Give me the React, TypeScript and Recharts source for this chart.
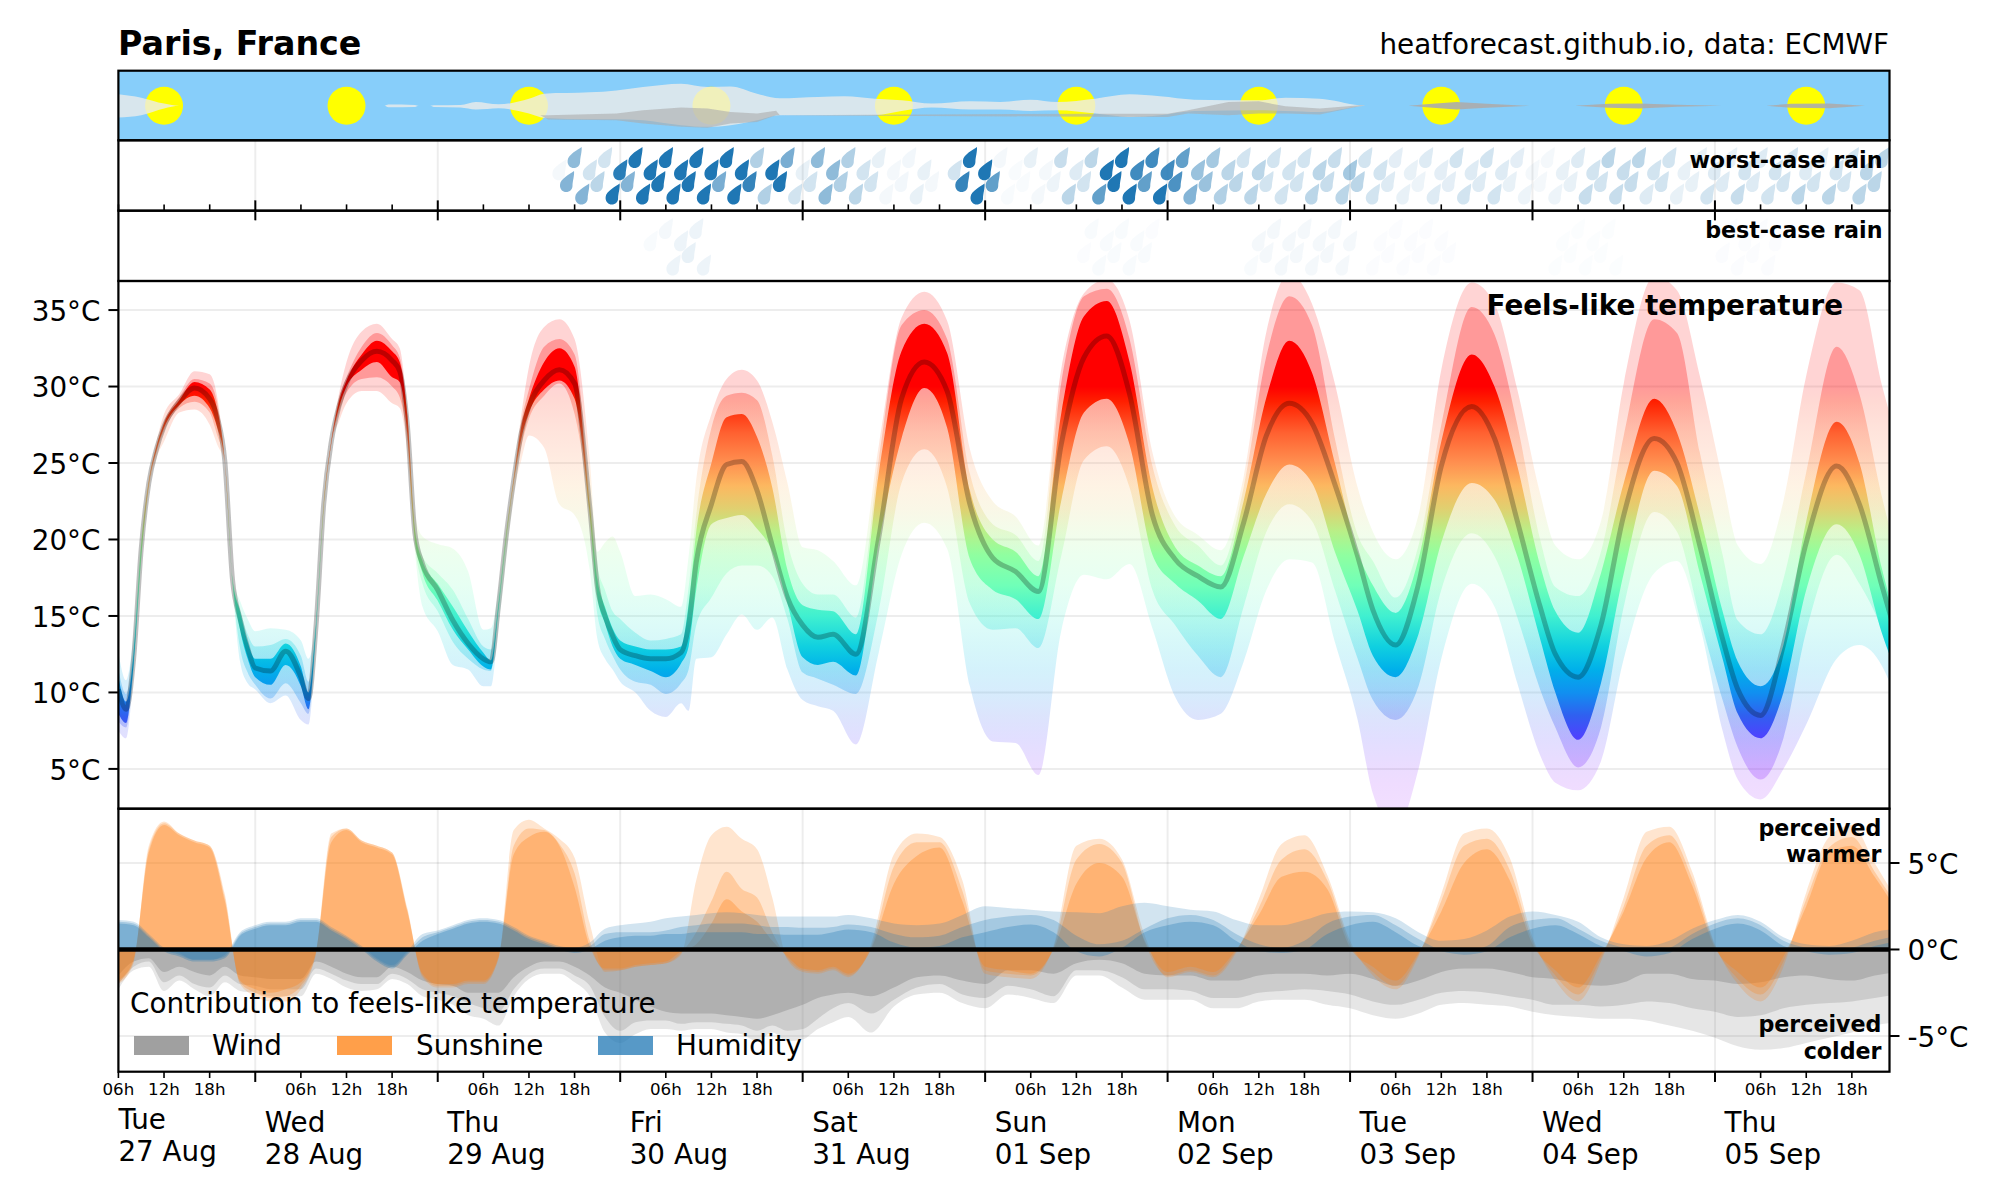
import React from 'react';
import { Area, CartesianGrid, ComposedChart, Line, ReferenceLine, Scatter, ScatterChart, XAxis, YAxis } from 'recharts';

// hours since Tue 27 Aug 06:00
const END_HOUR = 232.95;
const FONT = '"DejaVu Sans", sans-serif';

const heatHours = [
  0, 1, 2, 3, 4, 5, 6, 8, 10, 12, 13, 14, 15, 16, 17, 18, 20, 22, 24, 25, 26, 27, 28, 29, 30, 32, 34, 36, 37, 38, 39, 40,
  42, 44, 46, 48, 49, 50, 51, 52, 53, 54, 56, 58, 60, 62, 63, 64, 65, 66, 68, 70, 72, 74, 75, 76, 78, 80, 82, 84, 86, 88, 90, 92, 94,
  97, 100, 103, 106, 109, 112, 115, 118, 121, 124, 127, 130, 133, 136, 139, 142, 145, 148, 151, 154, 157, 160, 163,
  165, 168, 171, 174, 178, 181, 184, 187, 189, 192, 195, 198, 202, 205, 208, 211, 213, 216, 219, 222, 226, 229, 232, 235,
];
const outerHigh = [
  12.6, 10.8, 13.8, 20.3, 24.1, 26.4, 28.2, 29.5, 31, 30.8, 29.3, 25.1, 17.6, 16, 14.8, 14, 14.2, 14.1, 13.4, 12.2, 14.9, 22.5, 26.6, 29.5, 31.6, 33.6, 34.1, 33.1, 32.5, 28.4, 21.6, 20.2,
  19.7, 19.4, 17.9, 14.1, 14.2, 16.7, 20.7, 24.3, 28.2, 31.3, 33.9, 34.4, 33.1, 25.2, 19.2, 19.8, 20.2, 19.2, 16.3, 16.4, 16.1, 15.6, 18.9, 23.9, 28.2, 30.5, 31.1, 30.4, 27.7, 23.7, 19.5, 19.3, 18.6,
  17, 26.1, 34.5, 36.2, 34.3, 25.9, 22.5, 21.5, 19.6, 31.1, 36.1, 37, 34.3, 25.7, 21.5, 20.3, 19.3, 24.1, 33.6, 37.4, 35.4, 30.2, 23.4,
  20.5, 18.7, 21.6, 31.1, 36.8, 35.4, 29.8, 23, 19.6, 18.7, 21.2, 30.2, 37.2, 36.3, 30.7, 23.9, 19.6, 18.4, 22.5, 30.7, 36.8, 36.3, 30, 24.8,
];
const midHigh = [
  11.5, 9.9, 12.9, 19.8, 23.9, 26.1, 27.7, 29.3, 30.5, 30.2, 28.9, 25.1, 17.5, 15.4, 13.8, 13, 13.1, 13.5, 12.4, 10.7, 14.6, 22.4, 26.5, 29.2, 30.6, 32.6, 33.5, 32.7, 31.9, 28.2, 20.7, 18.9,
  17.8, 16.7, 14.8, 13, 12.8, 16, 20.5, 24.1, 27.7, 29.8, 32.6, 33.1, 32.1, 23, 18.3, 16.7, 15.3, 14.8, 13.9, 13.4, 13.5, 13.8, 16.9, 21.6, 27.3, 29.4, 29.6, 29.1, 25.5, 19.8, 17.1, 16.4, 16.4,
  14.9, 25.2, 34, 35, 33.1, 24.3, 21, 20.3, 18.6, 30.2, 35.9, 36.4, 33.1, 24.8, 20.9, 19.6, 18.3, 23.4, 32, 35.9, 34, 26.6, 20.3,
  18.6, 16.2, 19.6, 27.5, 35.2, 33.4, 27.5, 20, 16.9, 16.3, 19.2, 26.8, 34.4, 33.5, 25.7, 19, 14.7, 13.8, 17.4, 24.4, 32.6, 29.5, 22.7, 17.1,
];
const innerHigh = [
  11, 9.4, 12.5, 19.6, 23.8, 26.1, 27.6, 29.1, 30.3, 29.8, 28.5, 25.1, 17.4, 15.3, 13.3, 12.2, 12.2, 13.2, 11.7, 10, 14.5, 22.3, 26.4, 29, 30.4, 32.1, 33, 32.3, 31.6, 28.1, 20.6, 18.6,
  17.1, 15.6, 14, 12.6, 12.1, 15.8, 20.3, 24, 27.4, 29.2, 31.6, 32.5, 31.3, 22.3, 17.4, 15.6, 14.2, 13.4, 13, 12.8, 12.8, 13, 15.8, 20.5, 25, 28, 28.2, 26.7, 23.4, 18, 15.7, 15.4, 15.3,
  13.8, 24.3, 32.3, 34.1, 32.2, 23.2, 20, 19.2, 17.6, 28.2, 34.6, 35.6, 31.6, 23.4, 19.5, 18.3, 17.6, 22.5, 29.3, 33, 30.9, 25, 19.2,
  17, 15.2, 18.7, 26.4, 32.1, 30, 24.8, 18.3, 15.3, 13.9, 17.8, 23.7, 29.2, 27, 21.6, 15.3, 12, 10.4, 13.1, 21.2, 27.7, 25, 18, 12.9,
];
const median = [
  10.2, 8.9, 12.2, 19.4, 23.7, 25.9, 27.4, 29, 29.9, 29.2, 28, 25.1, 17.4, 14.8, 12.9, 11.6, 11.4, 12.7, 11, 9.6, 14.4, 22.3, 26.4, 28.7, 30.2, 31.7, 32.3, 31.7, 31, 27.5, 20.4, 18.4,
  16.7, 14.7, 13.2, 12.2, 12, 15.7, 20.2, 23.9, 27, 28.7, 30.4, 31.1, 30.2, 22.1, 16.9, 15, 13.7, 12.8, 12.4, 12.2, 12.2, 12.6, 14.4, 18.5, 22.3, 24.9, 25.1, 23.2, 19.6, 16.2, 14.4, 13.6, 13.8,
  12.5, 20.1, 29.2, 31.6, 29.7, 22.3, 18.8, 17.9, 16.6, 26.2, 31.9, 33.3, 29.5, 21.6, 18.7, 17.6, 16.9, 21.1, 26.8, 28.9, 27.6, 23.6, 18.9,
  15.4, 13.1, 17.1, 24.8, 28.7, 26.6, 21.2, 15.6, 12.5, 11, 14.4, 21.6, 26.6, 25, 19.6, 13.5, 10.2, 8.5, 13.1, 19.8, 24.8, 22.3, 16.9, 11.7,
];
const innerLow = [
  8.6, 8, 11.9, 18.9, 23.6, 25.8, 27.3, 28.8, 29.4, 28.6, 27.3, 25.1, 17.3, 14.1, 12.2, 11, 10.5, 11.8, 10.4, 8.9, 14.2, 22.1, 26.3, 28.6, 30, 31.1, 31.6, 30.6, 30.3, 26.9, 20, 17.8,
  16, 14.1, 12.8, 11.7, 11.5, 15.5, 20.1, 23.8, 26.6, 28.3, 29.8, 30.4, 29.2, 21.6, 16.2, 14.5, 13, 12.2, 11.8, 11.4, 11, 11.9, 13, 16.7, 21, 21.4, 21.6, 20.7, 19.2, 15.8, 12.3, 11.8, 12,
  11.1, 19.8, 26.6, 29.9, 27.3, 18.7, 16.7, 16.1, 14.8, 22.5, 28.3, 29.2, 26.2, 19, 17.1, 16, 14.8, 18.9, 23, 24.9, 23.7, 19.2, 15.3,
  12.4, 11, 13.8, 19.8, 23.7, 22.6, 18.9, 13.5, 10, 6.9, 10.6, 17.8, 24.5, 23.5, 17.8, 12.2, 8.6, 7, 10, 16.7, 21, 19, 13.8, 10,
];
const midLow = [
  8.1, 7.7, 11.7, 18.7, 23.4, 25.7, 27.1, 28.6, 29, 28.3, 26.8, 25, 17.1, 12.9, 11.3, 10.5, 9.6, 10.6, 9.3, 8.6, 14, 22, 26.2, 28.3, 29.6, 30.5, 30.6, 30, 29.3, 26.4, 19.6, 17.1,
  15.3, 13.3, 12.2, 11.5, 11.4, 15.3, 19.8, 23.7, 26.1, 27.9, 29.4, 30.2, 28.2, 21.2, 15.1, 13.5, 12.4, 11.5, 10.7, 10.5, 9.9, 10.6, 11.5, 14.4, 16.2, 17.8, 18.3, 18.3, 17.6, 14.8, 11.3, 10.9, 10.5,
  9.9, 15.3, 23.7, 25.9, 23.4, 15.8, 14.1, 14.2, 12.9, 18.9, 25.2, 26.1, 23.4, 16.7, 14.4, 12.4, 11, 15.6, 20.5, 22.3, 21.2, 16.7, 12.2,
  9.5, 8.2, 10.4, 16.7, 20.4, 18.9, 14.9, 10.2, 7.7, 5.1, 7.7, 15.6, 21.8, 20.5, 14.9, 9.5, 6.4, 4.3, 7, 14, 19, 17.1, 14, 8.8,
];
const outerLow = [
  7.5, 7, 11.3, 18.5, 23.2, 25.3, 26.4, 28.3, 28.5, 27.5, 26.2, 25, 17.1, 12, 10.6, 10.2, 9.3, 9.8, 8.2, 7.9, 13.5, 21.6, 26.2, 27.7, 28.9, 29.7, 29.7, 28.9, 28.6, 25.7, 19.2, 15.6,
  14, 11.8, 11.5, 10.4, 10.4, 14.4, 18.9, 23, 25.2, 26.8, 26, 22.3, 21.6, 18, 13.5, 12.2, 11.5, 10.7, 10, 8.8, 8.4, 9.3, 8.8, 12.2, 12.3, 13.8, 15.1, 14.1, 14.9, 11.5, 9.5, 9.1, 8.8,
  6.6, 12.6, 19, 21.1, 19.4, 10.4, 6.8, 6.7, 4.6, 14, 17.7, 17.4, 18.4, 14.2, 9.7, 8.2, 8.6, 12, 16.7, 18.7, 18.5, 13.3, 8.2,
  3.4, 1, 5, 12.2, 17.1, 15.6, 10.6, 5.9, 4.1, 3.6, 5.5, 12.2, 17.8, 18.6, 14.4, 7.5, 4.3, 3, 5, 7.9, 12.2, 13.1, 11.7, 7.7,
];

const contribHours = [
  0, 2, 4, 6, 8, 10, 12, 14, 16, 18, 20, 22, 24, 26, 28, 30, 32, 34, 36, 38, 40, 42, 44, 46, 48, 50, 52, 54, 56, 58, 60, 62, 64, 66, 68, 70, 72, 74, 76, 78, 80, 82, 84, 86, 88, 90, 92, 94, 96,
  99, 102, 105, 108, 111, 114, 117, 120, 123, 126, 129, 132, 135, 138, 141, 144, 147, 150, 153, 156, 159, 162, 165, 168, 171, 174, 177, 180, 183, 186, 189, 192, 195, 198, 201, 204, 207, 210, 213, 216, 219, 222, 225, 228, 231, 234,
];
const windOuter = [
  -2.3, -1.2, -1, -2.4, -1.8, -2.3, -2.7, -1.9, -2.4, -2.5, -2.7, -2.7, -2.7, -1.4, -1.7, -2.2, -2.4, -2.3, -1.7, -2, -2.7, -2.9, -3.2, -3.8, -4, -4.4, -2.7, -1.7, -1.4, -1.4, -1.9, -2.7, -4.8, -5.4, -4.9, -4.6, -4.6, -4.7, -4.6, -4.6, -4.8, -4.9, -5.3, -4.8, -5.3, -5.2, -4.6, -4.2, -3.9,
  -4.8, -3.3, -2.6, -2.5, -3.1, -3.4, -2.6, -2.8, -3.1, -1.5, -1.5, -2.2, -2.9, -2.9, -2.9, -3.4, -3.4, -3, -2.9, -2.9, -3.2, -3.4, -3.8, -4, -3.7, -3.2, -3.1, -3.2, -3.3, -3.6, -3.8, -3.9, -4, -4, -4.1, -4.4, -4.7, -5.1, -5.6, -5.8, -5.7, -5.4, -5.1, -4.8, -4.4, -4.2,
];
const windMid = [
  -2, -1, -0.7, -1.9, -1.5, -2, -2.2, -1.5, -2, -2.1, -2.3, -2.3, -2.3, -1.1, -1.4, -1.8, -2, -2, -1.4, -1.7, -2.3, -2.5, -2.7, -3.1, -3.4, -3.6, -2.3, -1.4, -1.1, -1.1, -1.5, -2.1, -3.9, -4.7, -4.2, -4.1, -4.1, -4.3, -4.2, -4.2, -4.3, -4.4, -4.7, -4.4, -4.7, -4.6, -4, -3.4, -3.1,
  -3.7, -2.9, -2.2, -2, -2.6, -2.8, -2.1, -2.3, -2.7, -1.2, -1.2, -1.6, -2.3, -2.3, -2.4, -2.8, -2.8, -2.5, -2.4, -2.3, -2.4, -2.6, -3, -3.2, -2.9, -2.5, -2.4, -2.5, -2.7, -2.9, -3.2, -3.2, -3.3, -3.2, -3, -3.1, -3.4, -3.6, -3.9, -3.8, -3.4, -3.2, -3.1, -3, -2.8, -2.6,
];
const windInner = [
  -1.5, -0.7, -0.5, -1.3, -1, -1.3, -1.5, -1, -1.5, -1.6, -1.7, -1.7, -1.7, -0.7, -1, -1.4, -1.6, -1.6, -1, -1.3, -1.8, -2, -2.1, -2.5, -2.5, -2.5, -1.6, -1, -0.7, -0.7, -1, -1.5, -2.2, -2.5, -2.9, -3.3, -3.6, -3.7, -3.7, -3.7, -3.8, -3.9, -4, -3.8, -3.5, -3.2, -2.8, -2.6, -2.5,
  -2.7, -2.2, -1.6, -1.5, -1.8, -2, -1.2, -1.2, -1.4, -0.8, -0.6, -0.8, -1.4, -1.5, -1.5, -1.8, -1.8, -1.5, -1.4, -1.4, -1.5, -1.4, -1.7, -2.1, -1.8, -1.3, -1.1, -1.1, -1.3, -1.6, -1.7, -2, -2.1, -1.9, -1.4, -1.4, -1.7, -1.8, -2, -1.9, -1.6, -1.5, -1.7, -1.8, -1.5, -1.3,
];
const sunOuter = [
  -2, -0.8, 6, 7.4, 6.7, 6.3, 6, 3.2, -2, -2.7, -3, -3, -2.3, -0.2, 6.7, 7, 6.3, 6, 5.6, 2.4, -1.6, -2.2, -2.2, -2, -2, -0.5, 6.9, 7.5, 7, 6.4, 5.3, 1.5, -1.3, -1.2, -1, -0.9, -0.8, -0.3, 4, 6.6, 7.1, 6.4, 5.8, 3, -0.6, -1.3, -1.4, -1.2, -1.6,
  0.3, 5.5, 6.7, 6.5, 4, -1.4, -1.6, -1.7, 0.2, 6, 6.4, 5.2, 0.8, -1.6, -1.3, -1.6, -0.2, 2.9, 6.1, 6.6, 4.3, 0.5, -1.5, -2.3, -0.4, 3.2, 6.7, 7, 5.3, 0.7, -1.8, -3, -0.7, 3, 6.8, 7.1, 4.5, 0.3, -2, -3, -1, 3.3, 6.5, 7.2, 5, 2.8,
];
const sunMid = [
  -1.9, -0.7, 5.8, 7.3, 6.7, 6.3, 6, 3, -1.9, -2.5, -2.8, -2.7, -2.1, -0.2, 6.5, 7, 6.3, 6, 5.6, 2.3, -1.5, -2.1, -2.1, -1.9, -1.9, -0.5, 6, 7, 6.9, 6.1, 4.4, 0.5, -1.2, -1.2, -1, -0.9, -0.8, -0.2, 1, 2.8, 4.5, 3.5, 3, 1, -0.5, -1.2, -1.3, -1.1, -1.5,
  0.1, 4.8, 6.2, 6.2, 3.4, -1.2, -1.4, -1.5, 0.1, 5.2, 6.1, 5, 0.4, -1.5, -1.2, -1.5, -0.1, 2.4, 5.2, 5.8, 4, 0.3, -1.3, -2.1, -0.3, 2.8, 6, 6.4, 4.6, 0.5, -1.5, -2.6, -0.5, 2.5, 6, 6.6, 4.1, 0.2, -1.7, -2.6, -0.7, 2.9, 5.9, 6.5, 4.5, 2.5,
];
const sunInner = [
  -1.8, -0.6, 5.6, 7.2, 6.6, 6.2, 5.9, 2.8, -1.8, -2.3, -2.5, -2.3, -1.9, -0.1, 6.2, 6.9, 6.2, 5.9, 5.5, 2.2, -1.4, -2, -2, -1.8, -1.8, -0.4, 5.5, 6.5, 6.8, 6, 3.6, 0.2, -1.1, -1.1, -0.9, -0.8, -0.7, -0.1, 0.3, 1.5, 2.9, 2.2, 1.6, 0.5, -0.4, -1.1, -1.2, -1, -1.4,
  0, 3.8, 5.4, 5.9, 2.8, -1, -1.2, -1.4, 0, 3.8, 5, 4.2, 0.5, -1.3, -1, -1.3, 0, 2, 4.2, 4.5, 3.5, 0.1, -1, -1.8, -0.2, 2.2, 5, 5.8, 4, 0.3, -1.2, -2.2, -0.3, 2.2, 5.3, 6.2, 3.7, 0.1, -1.3, -2.2, -0.4, 2.5, 5.6, 6, 4.2, 2.2,
];
const humidOuter = [
  1.7, 1.6, 0.9, 0.1, -0.2, -0.6, -0.6, -0.3, 1, 1.4, 1.6, 1.6, 1.8, 1.8, 1.3, 0.8, 0.2, -0.5, -0.9, -0.1, 0.9, 1.1, 1.4, 1.7, 1.8, 1.7, 1.3, 0.8, 0.5, 0.2, 0.1, 0.4, 1.2, 1.4, 1.5, 1.6, 1.8, 1.9, 2, 2.1, 2.15, 2.1, 2, 1.9, 1.9, 1.9, 1.9, 1.9, 2,
  1.8, 1.5, 1.4, 1.5, 2, 2.5, 2.4, 2.3, 2.2, 2.15, 2.1, 2.5, 2.7, 2.5, 2.3, 2.2, 1.7, 1.4, 1.4, 1.7, 2.1, 2.2, 2.15, 1.8, 1, 0.5, 0.6, 1.1, 1.9, 2.2, 2, 1.6, 0.7, 0.3, 0.2, 0.5, 1.2, 1.7, 2, 1.6, 0.7, 0.3, 0.2, 0.5, 1, 1.2,
];
const humidMid = [
  1.6, 1.5, 0.8, 0, -0.3, -0.6, -0.6, -0.4, 0.9, 1.3, 1.5, 1.5, 1.7, 1.7, 1.2, 0.7, 0.1, -0.6, -1, -0.2, 0.7, 1, 1.3, 1.6, 1.7, 1.6, 1.2, 0.7, 0.4, 0.1, 0, 0.2, 0.9, 1, 1, 1, 1.1, 1.3, 1.4, 1.5, 1.5, 1.5, 1.4, 1.3, 1.3, 1.25, 1.25, 1.3, 1.45,
  1.3, 0.9, 0.7, 0.8, 1.3, 1.7, 1.9, 2, 1.7, 0.8, 0.3, 0.5, 1.2, 1.8, 2, 1.7, 0.9, 0.3, 0.1, 0.5, 1.5, 1.9, 2, 1.4, 0.6, 0, -0.1, 0.2, 1.3, 1.7, 1.8, 1.2, 0.5, 0.1, -0.1, 0.1, 0.9, 1.5, 1.8, 1.4, 0.5, 0.1, -0.1, 0.1, 0.5, 0.8,
];
const humidInner = [
  1.5, 1.4, 0.7, -0.1, -0.4, -0.7, -0.7, -0.5, 0.8, 1.2, 1.4, 1.4, 1.6, 1.6, 1.1, 0.6, 0, -0.7, -1.1, -0.3, 0.5, 0.9, 1.2, 1.5, 1.6, 1.5, 1.1, 0.6, 0.3, 0, -0.2, 0, 0.5, 0.7, 0.8, 0.8, 0.9, 0.9, 1, 1, 1, 1, 0.9, 0.9, 0.85, 0.85, 0.85, 1, 1.15,
  1, 0.4, 0.1, 0.2, 0.7, 1, 1.3, 1.45, 1, -0.1, -0.4, 0.1, 1, 1.4, 1.6, 1.4, 0.5, -0.1, -0.2, 0, 0.9, 1.4, 1.6, 1, 0.2, -0.1, -0.3, -0.1, 0.7, 1.2, 1.4, 0.9, 0.2, -0.1, -0.4, -0.2, 0.6, 1.2, 1.5, 1.1, 0.2, -0.1, -0.3, -0.2, 0.2, 0.5,
];

// cloud thickness around the middle of the sky strip
const highCloudHours = [0, 3, 6, 8, 35, 35.5, 39, 39.5, 41, 41.5, 45, 47, 50, 54, 56, 62, 65.5, 69, 74, 77.5, 80.5, 84, 87, 92, 95.5, 99.5, 103, 107, 112, 116, 120, 123.5, 128.5, 133, 137, 141.5, 150, 153.5, 158, 163.3, 164, 235];
const highCloudTop = [11.5, 8.2, 2.2, 0, 0, 1.2, 0.8, 0, 0, 0.5, 0.8, 3.8, 1.5, 7, 12.2, 13.5, 15.5, 18.8, 22.2, 18.8, 19.5, 12.2, 7.5, 8.8, 9.5, 7.2, 5.5, 2.2, 4.5, 3.8, 6.2, 3.8, 7.2, 11.5, 9.5, 6.2, 5.5, 8.2, 7.2, 0.5, 0, 0];
const highCloudBottom = [-11.8, -9.5, -2.8, 0, 0, -1.5, -1.2, 0, 0, -1.2, -1.8, -3.8, -2.5, -7.8, -12.2, -13.5, -13.5, -14.5, -19.5, -21.2, -19.5, -14.5, -9.5, -9.5, -9.5, -9.5, -5.2, -1.8, -3.8, -3.8, -5.2, -4.5, -7.8, -11.2, -9.5, -5.2, -4.5, -5.2, -6.2, -0.5, 0, 0];
const lowCloudHours = [0, 55.5, 56.5, 65.5, 69, 74, 77.5, 80.5, 84, 86.5, 87, 128, 138, 140.7, 146, 150, 153.5, 158, 163.3, 164];
const lowCloudTop = [0, -9.5, -9.5, -7.8, -4.5, -1.8, -2.8, -6.2, -7.8, -5, -9.5, -8, -8, -4.5, 3.8, 4.5, -0.5, -2.8, 0.5, 0];
const lowCloudBottom = [0, -9.5, -13.8, -14.5, -17.8, -21.2, -22.2, -17.8, -16.2, -9.5, -9.5, -11, -11.2, -7.8, -9.5, -7.8, -7.8, -8.8, -0.5, 0];
const clearLowCloudHours = [164, 169.7, 172, 176, 180, 185.6, 191.6, 196, 200, 205, 210.8, 216.8, 220, 225, 229.7, 235];
const clearLowCloudTop = [0, 0, 1.5, 3.8, 2, 0, 0, 2, 2.2, 1, 0, 0, 2, 2.2, 0, 0];
const clearLowCloudBottom = [0, 0, -1.5, -3.8, -2, 0, 0, -2, -2.8, -1, 0, 0, -2, -2.5, 0, 0];

const noonHours = [6, 30, 54, 78, 102, 126, 150, 174, 198, 222];

// rain strength, one value per hour
const worstRainStart = 58;
const worstRain = [
  0.05, 0.55, 0.5, 0.55, 0.2, 0.3, 0.2, 1, 0.95, 0.55, 1, 1, 1, 1, 1, 1, 1, 1, 1, 1, 1, 0.6, 1, 1, 1, 0.9, 0.35, 0.35, 1, 1, 0.6, 0.2, 0.1, 0.2, 0.5, 0.5, 0.5, 0.35, 0.35, 0.3, 0.2, 0.2,
  0.1, 0.05, 0.05, 0.06, 0.06, 0.1, 0.1, 0.05, 0, 0, 0.2, 0.9, 1, 1, 1, 0.7, 0.05, 0.03, 0.03, 0.03, 0.1, 0.05, 0.05, 0.08, 0.25, 0.3, 0.15, 0.2, 0.3, 0.7, 1, 1, 1, 1, 0.85, 0.7, 0.85, 1, 0.85, 0.8,
  0.7, 0.55, 0.45, 0.45, 0.4, 0.35, 0.3, 0.3, 0.2, 0.3, 0.3, 0.2, 0.2, 0.2, 0.2, 0.2, 0.2, 0.3, 0.3, 0.25, 0.25, 0.3, 0.4, 0.3, 0.2, 0.2, 0.2, 0.15, 0.12, 0.1, 0.1, 0.08, 0.15, 0.15, 0.12, 0.12, 0.2, 0.2, 0.15, 0.15,
  0.2, 0.2, 0.15, 0.1, 0.12, 0.08, 0.05, 0.05, 0.05, 0.08, 0.1, 0.1, 0.15, 0.25, 0.2, 0.2, 0.3, 0.25, 0.25, 0.25, 0.3, 0.15, 0.2, 0.2, 0.2, 0.1, 0.1, 0.1, 0.1, 0.2, 0.15, 0.15, 0.1, 0.25, 0.2, 0.15, 0.15, 0.2, 0.2, 0.2, 0.2, 0.3, 0.15, 0.2, 0.1, 0.3, 0.2, 0.2, 0.2, 0.3, 0.3, 0.3, 0.3,
];
const bestRainStart = 70;
const bestRain = [
  0.03, 0, 0.05, 0.08, 0.08, 0.1, 0.08, 0.08, 0, 0, 0, 0, 0, 0, 0, 0, 0, 0, 0, 0, 0, 0, 0, 0, 0, 0, 0, 0, 0, 0, 0, 0, 0, 0, 0, 0, 0, 0, 0, 0, 0, 0, 0, 0, 0, 0, 0, 0, 0, 0, 0, 0, 0, 0, 0, 0, 0,
  0.02, 0.03, 0.03, 0.03, 0.03, 0.03, 0.03, 0.03, 0.03, 0.02, 0, 0, 0, 0, 0, 0, 0, 0, 0, 0, 0, 0, 0.03, 0.05, 0.05, 0.05, 0.05, 0.05, 0.05, 0.05, 0.05, 0.05, 0.05, 0.05, 0.05, 0.05, 0, 0,
  0.02, 0.02, 0.02, 0.02, 0.02, 0.02, 0.02, 0.02, 0.02, 0.02, 0.02, 0, 0, 0, 0, 0, 0, 0, 0, 0, 0, 0, 0, 0, 0.015, 0.015, 0.015, 0.015, 0.015, 0.015, 0.015, 0.015, 0.015, 0, 0, 0, 0, 0, 0, 0, 0, 0, 0, 0, 0, 0, 0.02, 0.02, 0.02, 0.02, 0.02, 0.02, 0.02, 0.02, 0, 0, 0, 0,
];

const midnightTicks = [18, 42, 66, 90, 114, 138, 162, 186, 210];
const minorTicks = [0, 6, 12, 24, 30, 36, 48, 54, 60, 72, 78, 84, 96, 102, 108, 120, 126, 132, 144, 150, 156, 168, 174, 180, 192, 198, 204, 216, 222, 228];
const dayTicks = [0, 18, 42, 66, 90, 114, 138, 162, 186, 210];
const dayNames = ['Tue', 'Wed', 'Thu', 'Fri', 'Sat', 'Sun', 'Mon', 'Tue', 'Wed', 'Thu'];
const dayDates = ['27 Aug', '28 Aug', '29 Aug', '30 Aug', '31 Aug', '01 Sep', '02 Sep', '03 Sep', '04 Sep', '05 Sep'];
const heatTicks = [5, 10, 15, 20, 25, 30, 35];
const contribTicks = [5, 0, -5];

// colour ramp, warmest first so the gradient offsets run downwards
const heatStops = [36.9, 30, 29, 27, 25, 23.5, 22, 20.5, 19, 17, 15, 13, 11.5, 10, 8.5, 7, 5, 4, 2.4];
const heatColors = ['#ff0000', '#ff0000', '#ff2000', '#ff6030', '#ff9050', '#fcb860', '#e0d070', '#b8f088', '#90ffa0', '#70ffb8', '#40f0d0', '#10d0e0', '#00b0ea', '#1090f0', '#3060f0', '#5040ff', '#8a30ff', '#a030ff', '#b040ff'];

const heatRows = heatHours.map((h, i) => ({
  h, oh: outerHigh[i], mh: midHigh[i], ih: innerHigh[i], med: median[i], il: innerLow[i], ml: midLow[i], ol: outerLow[i],
}));
const contribRows = contribHours.map((h, i) => ({
  h, w1: windOuter[i], w2: windMid[i], w3: windInner[i], s1: sunOuter[i], s2: sunMid[i], s3: sunInner[i], q1: humidOuter[i], q2: humidMid[i], q3: humidInner[i],
}));
const highCloudRows = highCloudHours.map((h, i) => ({ h, top: highCloudTop[i], bottom: highCloudBottom[i] }));
const lowCloudRows = lowCloudHours.map((h, i) => ({ h, top: lowCloudTop[i], bottom: lowCloudBottom[i] }));
const clearLowCloudRows = clearLowCloudHours.map((h, i) => ({ h, top: clearLowCloudTop[i], bottom: clearLowCloudBottom[i] }));

const DROP_ROWS = [17.4, 53.7, 29.7, 41.4];
const rainRows = (values: number[], start: number) =>
  values.map((v, i) => ({ h: start + i, row: DROP_ROWS[(start + i) % 4], v })).filter((d) => d.v > 0);

// plot area in page pixels
const LEFT = 118.4;
const RIGHT_GAP = 2000 - 1889.5;
const PAD = 14;
const panel = {
  sky: [70.7, 140.3],
  worst: [140.3, 210.7],
  best: [210.7, 281],
  heat: [281, 808.7],
  contrib: [808.7, 1071.7],
};

const xProps = {
  dataKey: 'h',
  type: 'number' as const,
  domain: [0, END_HOUR],
  allowDataOverflow: true,
  height: 0.01,
  axisLine: false,
  tickLine: false,
  tickSize: 0,
  tickMargin: 0,
  interval: 0 as const,
};
const gridProps = { stroke: '#000', strokeOpacity: 0.07, strokeWidth: 2 };

const hourLabel = (h: number) => `${String((h + 6) % 24).padStart(2, '0')}h`;

const Drop = (props: any) => {
  const { cx, cy, x, width, y, height, payload } = props;
  const px = cx ?? x + width / 2;
  const py = cy ?? y + height / 2;
  return (
    <path
      transform={`translate(${px},${py})`}
      d="M7 -10.5 C3 -7.5 -6.5 -3 -7 3 C-7.5 8 -4 10.5 -1 10.5 C3 10.5 5.5 8 5.5 4 C5.5 0 7.5 -6 7 -10.5 Z"
      fill="#1f77b4"
      fillOpacity={payload.v}
    />
  );
};

const SunDisc = (props: any) => {
  const { cx, cy, x, width, y, height } = props;
  return <circle cx={cx ?? x + width / 2} cy={cy ?? y + height / 2} r={19} fill="#ffff00" />;
};

const RainMajorTick = ({ x, y }: any) => <line x1={x} x2={x} y1={y - 10} y2={y + 10} stroke="#000" strokeWidth={2} />;
const RainMinorTick = ({ x, y }: any) => <line x1={x} x2={x} y1={y - 6} y2={y} stroke="#000" strokeWidth={1.6} />;
const BottomMajorTick = ({ x, y }: any) => <line x1={x} x2={x} y1={y} y2={y + 10} stroke="#000" strokeWidth={2} />;
const BottomMinorTick = ({ x, y, payload }: any) => (
  <g>
    <line x1={x} x2={x} y1={y} y2={y + 6} stroke="#000" strokeWidth={1.6} />
    <text x={x} y={y + 23.3} textAnchor="middle" fontSize={16.7} fontFamily={FONT} fill="#000">{hourLabel(payload.value)}</text>
  </g>
);
const DayTick = ({ x, y, payload }: any) => {
  const i = dayTicks.indexOf(payload.value);
  const first = i === 0;
  return (
    <text fontSize={27.8} fontFamily={FONT} fill="#000">
      <tspan x={first ? x : x + 9.5} y={y + (first ? 56.6 : 60)}>{dayNames[i]}</tspan>
      <tspan x={first ? x : x + 9.5} y={y + (first ? 89.3 : 91.6)}>{dayDates[i]}</tspan>
    </text>
  );
};

const layerStyle = (top: number): React.CSSProperties => ({ position: 'absolute', left: 0, top: top - PAD });

const RainPanel = ({ rows, span, ticks }: { rows: any[]; span: number[]; ticks: boolean }) => (
  <div style={layerStyle(span[0])}>
    <ScatterChart width={2000} height={span[1] - span[0] + PAD * 2} margin={{ top: PAD, bottom: PAD, left: LEFT, right: RIGHT_GAP }}>
      <CartesianGrid {...gridProps} horizontal={false} />
      <XAxis {...xProps} ticks={midnightTicks} tick={ticks ? RainMajorTick : false} />
      <XAxis {...xProps} xAxisId="minor" ticks={minorTicks} tick={ticks ? RainMinorTick : false} />
      <YAxis hide dataKey="row" type="number" domain={[0, 70]} reversed />
      <Scatter data={rows} shape={Drop} isAnimationActive={false} />
    </ScatterChart>
  </div>
);

export default function App() {
  const [skyTop, skyBottom] = panel.sky;
  const [heatTop, heatBottom] = panel.heat;
  const [contribTop, contribBottom] = panel.contrib;
  const spans = [panel.sky, panel.worst, panel.best, panel.heat, panel.contrib];
  const plotWidth = 2000 - LEFT - RIGHT_GAP;
  const legendText = { fontSize: 27.8, fontFamily: FONT, fill: '#000' };
  const boldSmall = { fontSize: 22.2, fontFamily: FONT, fontWeight: 700, fill: '#000', textAnchor: 'end' as const };

  return (
    <div style={{ position: 'absolute', left: 0, top: 0, width: 2000, height: 1200, overflow: 'hidden', background: '#fff' }}>
      {/* sky strip */}
      <div style={{ position: 'absolute', left: LEFT, top: skyTop, width: plotWidth, height: skyBottom - skyTop, background: '#87cefa' }} />
      <div style={layerStyle(skyTop)}>
        <ScatterChart width={2000} height={skyBottom - skyTop + PAD * 2} margin={{ top: PAD, bottom: PAD, left: LEFT, right: RIGHT_GAP }}>
          <XAxis {...xProps} tick={false} />
          <YAxis hide dataKey="y" type="number" domain={[-35, 35]} />
          <Scatter data={noonHours.map((h) => ({ h, y: 0 }))} shape={SunDisc} isAnimationActive={false} />
        </ScatterChart>
      </div>
      <div style={layerStyle(skyTop)}>
        <ComposedChart data={highCloudRows} width={2000} height={skyBottom - skyTop + PAD * 2} margin={{ top: PAD, bottom: PAD, left: LEFT, right: RIGHT_GAP }}>
          <XAxis {...xProps} tick={false} />
          <YAxis hide type="number" domain={[-35, 35]} />
          <Area dataKey={(d: any) => [d.bottom, d.top]} type="monotone" fill="#ececea" fillOpacity={0.8} stroke="none" isAnimationActive={false} />
          <Area data={lowCloudRows} dataKey={(d: any) => [d.bottom, d.top]} type="linear" fill="#acacac" fillOpacity={0.6} stroke="none" isAnimationActive={false} />
          <Area data={clearLowCloudRows} dataKey={(d: any) => [d.bottom, d.top]} type="linear" fill="#acacac" fillOpacity={0.9} stroke="none" isAnimationActive={false} />
        </ComposedChart>
      </div>

      <RainPanel rows={rainRows(worstRain, worstRainStart)} span={panel.worst} ticks />
      <RainPanel rows={rainRows(bestRain, bestRainStart)} span={panel.best} ticks={false} />

      {/* feels-like temperature */}
      <div style={layerStyle(heatTop)}>
        <ComposedChart data={heatRows} width={2000} height={heatBottom - heatTop + PAD * 2} margin={{ top: PAD, bottom: PAD, left: LEFT - 100, right: RIGHT_GAP }}>
          <defs>
            <linearGradient id="heat" gradientUnits="userSpaceOnUse" x1={0} x2={0} y1={PAD} y2={PAD + heatBottom - heatTop}>
              {heatStops.map((t, i) => (
                <stop key={t} offset={(36.9 - t) / (36.9 - 2.4)} stopColor={heatColors[i]} />
              ))}
            </linearGradient>
          </defs>
          <CartesianGrid {...gridProps} />
          <XAxis {...xProps} ticks={midnightTicks} tick={false} />
          <YAxis
            width={100}
            type="number"
            domain={[2.4, 36.9]}
            allowDataOverflow
            ticks={heatTicks}
            interval={0}
            axisLine={false}
            tickSize={10}
            tickMargin={8}
            tickLine={{ stroke: '#000', strokeWidth: 2 }}
            tick={{ fontSize: 27.8, fontFamily: FONT, fill: '#000', dy: 1 }}
            tickFormatter={(v: number) => `${v}°C`}
          />
          <Area dataKey={(d: any) => [d.ol, d.oh]} type="monotone" fill="url(#heat)" fillOpacity={0.17} stroke="none" isAnimationActive={false} />
          <Area dataKey={(d: any) => [d.ml, d.mh]} type="monotone" fill="url(#heat)" fillOpacity={0.28} stroke="none" isAnimationActive={false} />
          <Area dataKey={(d: any) => [d.il, d.ih]} type="monotone" fill="url(#heat)" fillOpacity={1} stroke="none" isAnimationActive={false} />
          <Line dataKey="med" type="monotone" stroke="#000" strokeOpacity={0.25} strokeWidth={5} dot={false} isAnimationActive={false} />
        </ComposedChart>
      </div>

      {/* contribution panel */}
      <div style={layerStyle(contribTop)}>
        <ComposedChart data={contribRows} width={2000} height={1200 - contribTop + PAD} margin={{ top: PAD, bottom: 1200 - contribBottom, left: LEFT, right: RIGHT_GAP - 100 }}>
          <CartesianGrid {...gridProps} />
          <XAxis {...xProps} ticks={midnightTicks} tick={BottomMajorTick} />
          <XAxis {...xProps} xAxisId="minor" ticks={minorTicks} tick={BottomMinorTick} />
          <XAxis {...xProps} xAxisId="days" ticks={dayTicks} tick={DayTick} />
          <YAxis
            orientation="right"
            width={100}
            type="number"
            domain={[-7.08, 8.12]}
            allowDataOverflow
            ticks={contribTicks}
            interval={0}
            axisLine={false}
            tickSize={10}
            tickMargin={8}
            tickLine={{ stroke: '#000', strokeWidth: 2 }}
            tick={{ fontSize: 27.8, fontFamily: FONT, fill: '#000', dy: 1 }}
            tickFormatter={(v: number) => `${v}°C`}
          />
          <Area dataKey="w1" baseValue={0} type="monotone" fill="#808080" fillOpacity={0.2} stroke="none" isAnimationActive={false} />
          <Area dataKey="w2" baseValue={0} type="monotone" fill="#808080" fillOpacity={0.25} stroke="none" isAnimationActive={false} />
          <Area dataKey="w3" baseValue={0} type="monotone" fill="#808080" fillOpacity={0.37} stroke="none" isAnimationActive={false} />
          <Area dataKey="s1" baseValue={0} type="monotone" fill="#ff7f0e" fillOpacity={0.2} stroke="none" isAnimationActive={false} />
          <Area dataKey="s2" baseValue={0} type="monotone" fill="#ff7f0e" fillOpacity={0.25} stroke="none" isAnimationActive={false} />
          <Area dataKey="s3" baseValue={0} type="monotone" fill="#ff7f0e" fillOpacity={0.3} stroke="none" isAnimationActive={false} />
          <Area dataKey="q1" baseValue={0} type="monotone" fill="#1f77b4" fillOpacity={0.2} stroke="none" isAnimationActive={false} />
          <Area dataKey="q2" baseValue={0} type="monotone" fill="#1f77b4" fillOpacity={0.25} stroke="none" isAnimationActive={false} />
          <Area dataKey="q3" baseValue={0} type="monotone" fill="#1f77b4" fillOpacity={0.3} stroke="none" isAnimationActive={false} />
          <ReferenceLine y={0} stroke="#000" strokeWidth={4.5} />
        </ComposedChart>
      </div>

      {/* frames, titles and legend */}
      <svg width={2000} height={1200} style={{ position: 'absolute', left: 0, top: 0, pointerEvents: 'none' }}>
        {spans.map(([a, b]) => (
          <rect key={a} x={LEFT} y={a} width={plotWidth} height={b - a} fill="none" stroke="#000" strokeWidth={2.2} />
        ))}
        <text x={118} y={54.5} fontSize={33.3} fontWeight={700} fontFamily={FONT}>Paris, France</text>
        <text x={1889} y={54} fontSize={27.8} fontFamily={FONT} textAnchor="end">heatforecast.github.io, data: ECMWF</text>
        <text x={1882.5} y={168} {...boldSmall}>worst-case rain</text>
        <text x={1882.5} y={238} {...boldSmall}>best-case rain</text>
        <text x={1843} y={314.5} fontSize={27.8} fontWeight={700} fontFamily={FONT} textAnchor="end">Feels-like temperature</text>
        <text x={1881.5} y={835.5} {...boldSmall}>perceived</text>
        <text x={1881.5} y={862} {...boldSmall}>warmer</text>
        <text x={1881.5} y={1032} {...boldSmall}>perceived</text>
        <text x={1881.5} y={1058.5} {...boldSmall}>colder</text>
        <text x={130} y={1013} {...legendText}>Contribution to feels-like temperature</text>
        <rect x={134} y={1036} width={55} height={19} fill="#808080" fillOpacity={0.75} />
        <text x={212} y={1055} {...legendText}>Wind</text>
        <rect x={337} y={1036} width={55} height={19} fill="#ff7f0e" fillOpacity={0.75} />
        <text x={416} y={1055} {...legendText}>Sunshine</text>
        <rect x={598} y={1036} width={55} height={19} fill="#1f77b4" fillOpacity={0.75} />
        <text x={676} y={1055} {...legendText}>Humidity</text>
      </svg>
    </div>
  );
}
